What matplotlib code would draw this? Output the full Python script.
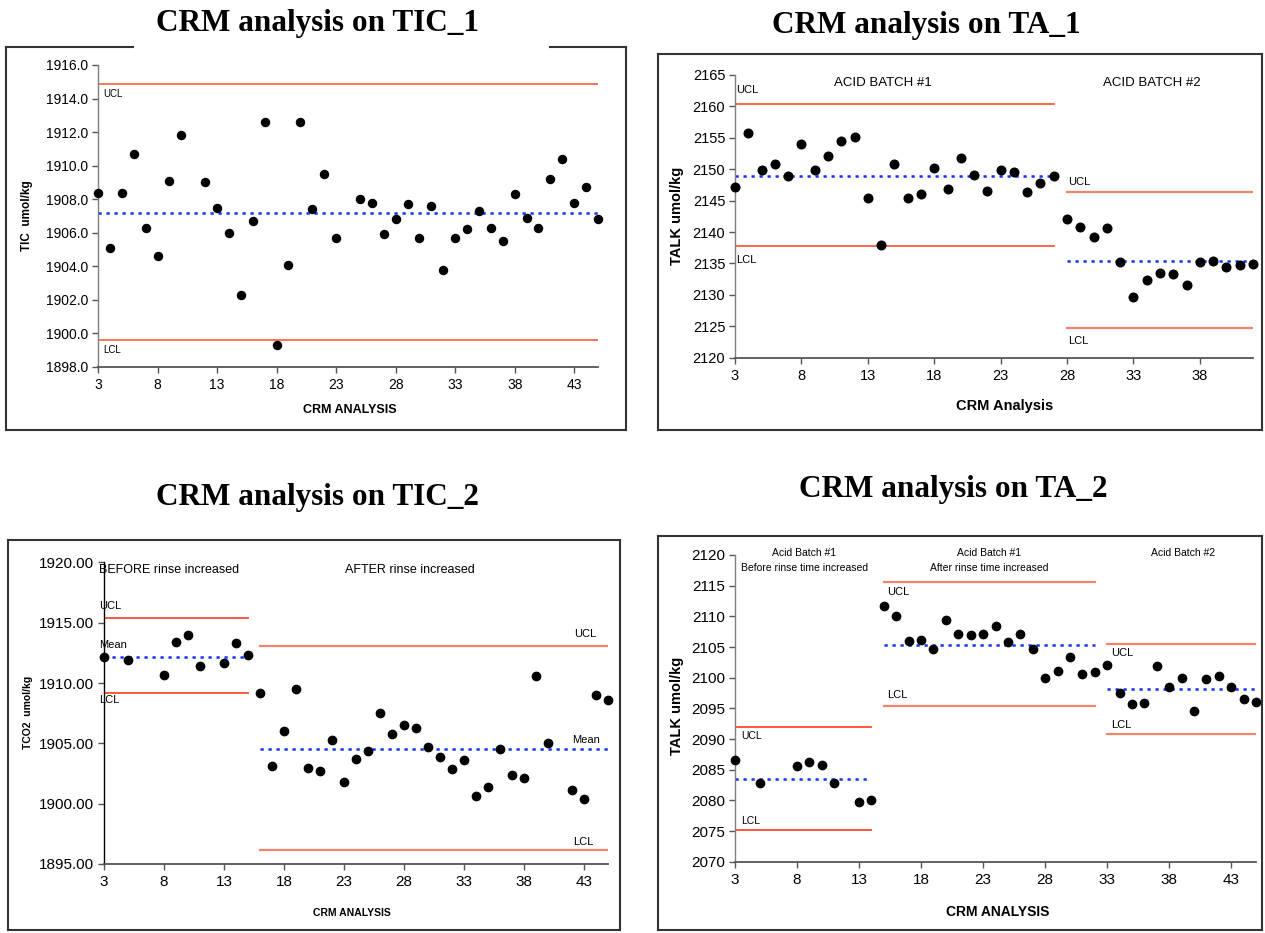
import matplotlib
matplotlib.use("Agg")
import matplotlib.pyplot as plt
from matplotlib.lines import Line2D
import numpy as np

# ---- TIC_1 ---------------------------------------------------------------
tic1_x = [3, 4, 5, 6, 7, 8, 9, 10, 12, 13, 14, 15, 16, 17, 18, 19, 20, 21, 22, 23,
          25, 26, 27, 28, 29, 30, 31, 32, 33, 34, 35, 36, 37, 38, 39, 40, 41, 42,
          43, 44, 45]
tic1_y = [1908.4, 1905.1, 1908.4, 1910.7, 1906.3, 1904.6, 1909.1, 1911.8,
          1909.0, 1907.5, 1906.0, 1902.3, 1906.7, 1912.6, 1899.3, 1904.1,
          1912.6, 1907.4, 1909.5, 1905.7,
          1908.0, 1907.8, 1905.9, 1906.8, 1907.7, 1905.7, 1907.6, 1903.8,
          1905.7, 1906.2, 1907.3, 1906.3, 1905.5, 1908.3, 1906.9, 1906.3,
          1909.2, 1910.4, 1907.8, 1908.7, 1906.8]
tic1_limits = {'UCL': 1914.85, 'Mean': 1907.2, 'LCL': 1899.6}

# ---- TA_1 (two acid batches) ---------------------------------------------
ta1_b1_x = list(range(3, 28))
ta1_b1_y = [2147.1, 2155.7, 2149.9, 2150.9, 2148.9, 2154.0, 2149.8, 2152.1,
            2154.5, 2155.2, 2145.4, 2138.0, 2150.9, 2145.4, 2146.0, 2150.2,
            2146.9, 2151.8, 2149.0, 2146.6, 2149.8, 2149.5, 2146.4, 2147.8,
            2148.9]
ta1_b2_x = list(range(28, 43))
ta1_b2_y = [2142.1, 2140.8, 2139.2, 2140.6, 2135.2, 2129.7, 2132.4, 2133.5,
            2133.3, 2131.6, 2135.3, 2135.4, 2134.4, 2134.8, 2134.9]
ta1_b1_limits = {'UCL': 2160.4, 'Mean': 2148.9, 'LCL': 2137.8}
ta1_b2_limits = {'UCL': 2146.3, 'Mean': 2135.4, 'LCL': 2124.7}

# ---- TIC_2 (before / after rinse increased) ------------------------------
tic2_before_x = [3, 5, 8, 9, 10, 11, 13, 14, 15]
tic2_before_y = [1912.2, 1911.9, 1910.7, 1913.4, 1914.0, 1911.4, 1911.7,
                 1913.3, 1912.3]
tic2_after_x = [16, 17, 18, 19, 20, 21, 22, 23, 24, 25, 26, 27, 28, 29, 30,
                31, 32, 33, 34, 35, 36, 37, 38, 39, 40, 42, 43, 44, 45]
tic2_after_y = [1909.2, 1903.1, 1906.0, 1909.5, 1903.0, 1902.7, 1905.3,
                1901.8, 1903.7, 1904.4, 1907.5, 1905.8, 1906.5, 1906.3,
                1904.7, 1903.9, 1902.9, 1903.6, 1900.6, 1901.4, 1904.5,
                1902.4, 1902.1, 1910.6, 1905.0, 1901.1, 1900.4, 1909.0,
                1908.6]
tic2_before_limits = {'UCL': 1915.4, 'Mean': 1912.2, 'LCL': 1909.15}
tic2_after_limits = {'UCL': 1913.1, 'Mean': 1904.55, 'LCL': 1896.2}

# ---- TA_2 (three segments) -----------------------------------------------
ta2_s1_x = [3, 5, 8, 9, 10, 11, 13, 14]
ta2_s1_y = [2086.5, 2082.8, 2085.6, 2086.2, 2085.8, 2082.8, 2079.7, 2080.0]
ta2_s2_x = list(range(15, 33))
ta2_s2_y = [2111.7, 2110.1, 2105.9, 2106.1, 2104.7, 2109.4, 2107.1, 2106.9,
            2107.1, 2108.5, 2105.8, 2107.1, 2104.7, 2100.0, 2101.1, 2103.3,
            2100.6, 2100.9]
ta2_s3_x = list(range(33, 46))
ta2_s3_y = [2102.0, 2097.5, 2095.7, 2095.8, 2101.9, 2098.4, 2099.9, 2094.6,
            2099.8, 2100.3, 2098.4, 2096.5, 2096.0]
ta2_s1_limits = {'UCL': 2091.9, 'Mean': 2083.5, 'LCL': 2075.2}
ta2_s2_limits = {'UCL': 2115.6, 'Mean': 2105.3, 'LCL': 2095.4}
ta2_s3_limits = {'UCL': 2105.5, 'Mean': 2098.2, 'LCL': 2090.8}

# -----------------------------------------------------------------------------
W, H = 1265, 933
SANS = 'Liberation Sans'
SERIF = 'Liberation Serif'
RED = '#ff4b2b'
SALMON = '#f4826c'
BLUE = '#1530ff'

fig = plt.figure(figsize=(W / 100, H / 100), dpi=100)
fig.patch.set_facecolor('white')


def fx(x):
    return x / W


def fy(y):
    return 1 - y / H


def add_panel(l, t, r, b):
    return fig.add_axes([fx(l), fy(b), (r - l) / W, (b - t) / H])


def hline(x0, x1, y0, y1, lw=1.5, color='#333333'):
    fig.add_artist(Line2D([fx(x0), fx(x1)], [fy(y0), fy(y1)],
                          transform=fig.transFigure, color=color, lw=lw))


def frame(l, t, r, b, top_gap=None):
    if top_gap:
        hline(l, top_gap[0], t, t)
        hline(top_gap[1], r, t, t)
    else:
        hline(l, r, t, t)
    hline(l, r, b, b)
    hline(l, l, t, b)
    hline(r, r, t, b)


def style_axes(ax, xlim, ylim, yticks, fmt, size):
    ax.set_xlim(*xlim)
    ax.set_ylim(*ylim)
    ax.set_xticks(np.arange(3, xlim[1] + 0.01, 5))
    ax.set_yticks(yticks)
    ax.set_yticklabels([fmt.format(v) for v in yticks])
    for s in ['top', 'right']:
        ax.spines[s].set_visible(False)
    ax.spines['left'].set_color('#7f7f7f')
    ax.spines['bottom'].set_color('#555555')
    ax.spines['left'].set_linewidth(1.0)
    ax.spines['bottom'].set_linewidth(1.3)
    ax.tick_params(direction='out', length=4, width=1, colors='#555555',
                   labelcolor='black', labelsize=size, pad=3)
    ax.tick_params(axis='x', pad=4)
    for lab in ax.get_xticklabels() + ax.get_yticklabels():
        lab.set_family(SANS)
    ax.set_facecolor('none')


def limit_lines(ax, x0, x1, lim, color=RED, lw=1.2):
    ax.plot([x0, x1], [lim['UCL'], lim['UCL']], color=color, lw=lw, zorder=2)
    ax.plot([x0, x1], [lim['LCL'], lim['LCL']], color=color, lw=lw, zorder=2)
    ax.plot([x0, x1], [lim['Mean'], lim['Mean']], color=BLUE, lw=1.8,
            linestyle=(0, (1.3, 1.9)), zorder=2)


def dots(ax, x, y, ms=6):
    ax.plot(x, y, 'o', color='black', ms=ms, zorder=3, clip_on=False)


def note(ax, x, y, s, size=7.5, ha='left', va='center'):
    ax.text(x, y, s, fontsize=size, family=SANS, ha=ha, va=va, clip_on=False)


# ---- panel 1: TIC_1 --------------------------------------------------------
frame(6, 47, 626, 430, top_gap=(133, 550))
fig.text(fx(318), fy(23), 'CRM analysis on TIC_1', family=SERIF,
         weight='bold', size=22.5, ha='center', va='center')
ax1 = add_panel(98, 65, 598, 367)
style_axes(ax1, (3, 45), (1898, 1916), np.arange(1898, 1917, 2), '{:.1f}', 10)
limit_lines(ax1, 3, 45, tic1_limits, color=RED, lw=1.1)
dots(ax1, tic1_x, tic1_y, ms=5.8)
note(ax1, 3.4, 1914.25, 'UCL', size=7)
note(ax1, 3.4, 1899.0, 'LCL', size=7)
fig.text(fx(27), fy(216), 'TIC  umol/kg', family=SANS, weight='bold',
         size=8.5, rotation=90, ha='center', va='center')
fig.text(fx(350), fy(410), 'CRM ANALYSIS', family=SANS, weight='bold',
         size=9, ha='center', va='center')

# ---- panel 2: TA_1 ---------------------------------------------------------
frame(658, 54, 1262, 430)
fig.text(fx(926), fy(25), 'CRM analysis on TA_1', family=SERIF,
         weight='bold', size=22.5, ha='center', va='center')
ax2 = add_panel(735, 75, 1253, 357.6)
style_axes(ax2, (3, 42), (2120, 2165), np.arange(2120, 2166, 5), '{:.0f}', 10.5)
limit_lines(ax2, 3, 27, ta1_b1_limits, color=RED, lw=1.2)
limit_lines(ax2, 28, 42, ta1_b2_limits, color=SALMON, lw=1.6)
dots(ax2, ta1_b1_x, ta1_b1_y, ms=6.2)
dots(ax2, ta1_b2_x, ta1_b2_y, ms=6.2)
note(ax2, 3.1, 2162.6, 'UCL', size=8)
note(ax2, 3.1, 2135.6, 'LCL', size=8)
note(ax2, 28.1, 2147.9, 'UCL', size=8)
note(ax2, 28.1, 2122.6, 'LCL', size=8)
note(ax2, 14.1, 2163.7, 'ACID BATCH #1', size=9.5, ha='center')
note(ax2, 34.4, 2163.7, 'ACID BATCH #2', size=9.5, ha='center')
fig.text(fx(677), fy(216), 'TALK umol/kg', family=SANS, weight='bold',
         size=10.5, rotation=90, ha='center', va='center')
fig.text(fx(1005), fy(406), 'CRM Analysis', family=SANS, weight='bold',
         size=10.5, ha='center', va='center')

# ---- panel 3: TIC_2 --------------------------------------------------------
frame(8, 540, 620, 930)
fig.text(fx(318), fy(497), 'CRM analysis on TIC_2', family=SERIF,
         weight='bold', size=22.5, ha='center', va='center')
ax3 = add_panel(104, 562.5, 608, 864)
style_axes(ax3, (3, 45), (1895, 1920), np.arange(1895, 1921, 5), '{:.2f}', 11)
ax3.spines['left'].set_color('black')
limit_lines(ax3, 3, 15, tic2_before_limits, color=RED, lw=1.3)
limit_lines(ax3, 16, 45, tic2_after_limits, color=SALMON, lw=1.6)
dots(ax3, tic2_before_x, tic2_before_y, ms=6)
dots(ax3, tic2_after_x, tic2_after_y, ms=6)
note(ax3, 2.6, 1916.4, 'UCL', size=8)
note(ax3, 2.6, 1913.2, 'Mean', size=8)
note(ax3, 2.6, 1908.6, 'LCL', size=8)
note(ax3, 42.2, 1914.05, 'UCL', size=8)
note(ax3, 42.0, 1905.3, 'Mean', size=8)
note(ax3, 42.1, 1896.8, 'LCL', size=8)
note(ax3, 2.6, 1919.4, 'BEFORE rinse increased', size=9)
note(ax3, 28.5, 1919.4, 'AFTER rinse increased', size=9, ha='center')
fig.text(fx(28), fy(712), 'TCO2  umol/kg', family=SANS, weight='bold',
         size=7.5, rotation=90, ha='center', va='center')
fig.text(fx(352), fy(913), 'CRM ANALYSIS', family=SANS, weight='bold',
         size=7.5, ha='center', va='center')

# ---- panel 4: TA_2 ---------------------------------------------------------
frame(658, 536, 1262, 930)
fig.text(fx(953), fy(489), 'CRM analysis on TA_2', family=SERIF,
         weight='bold', size=22.5, ha='center', va='center')
ax4 = add_panel(735, 555, 1256, 861.7)
style_axes(ax4, (3, 45), (2070, 2120), np.arange(2070, 2121, 5), '{:.0f}', 11)
limit_lines(ax4, 3, 14, ta2_s1_limits, color=RED, lw=1.3)
limit_lines(ax4, 15, 32, ta2_s2_limits, color=SALMON, lw=1.6)
limit_lines(ax4, 33, 45, ta2_s3_limits, color=SALMON, lw=1.6)
dots(ax4, ta2_s1_x, ta2_s1_y, ms=6)
dots(ax4, ta2_s2_x, ta2_s2_y, ms=6)
dots(ax4, ta2_s3_x, ta2_s3_y, ms=6)
note(ax4, 3.5, 2090.5, 'UCL', size=7.5)
note(ax4, 3.5, 2076.7, 'LCL', size=7.5)
note(ax4, 15.3, 2113.9, 'UCL', size=8)
note(ax4, 15.3, 2097.2, 'LCL', size=8)
note(ax4, 33.3, 2104.1, 'UCL', size=8)
note(ax4, 33.3, 2092.3, 'LCL', size=8)
note(ax4, 8.6, 2120.3, 'Acid Batch #1', size=7.5, ha='center')
note(ax4, 8.6, 2117.9, 'Before rinse time increased', size=7.5, ha='center')
note(ax4, 23.5, 2120.3, 'Acid Batch #1', size=7.5, ha='center')
note(ax4, 23.5, 2117.9, 'After rinse time increased', size=7.5, ha='center')
note(ax4, 39.1, 2120.3, 'Acid Batch #2', size=7.5, ha='center')
fig.text(fx(677), fy(706), 'TALK umol/kg', family=SANS, weight='bold',
         size=10.5, rotation=90, ha='center', va='center')
fig.text(fx(998), fy(912), 'CRM ANALYSIS', family=SANS, weight='bold',
         size=10, ha='center', va='center')

fig.savefig('out.png', dpi=100, facecolor='white')
